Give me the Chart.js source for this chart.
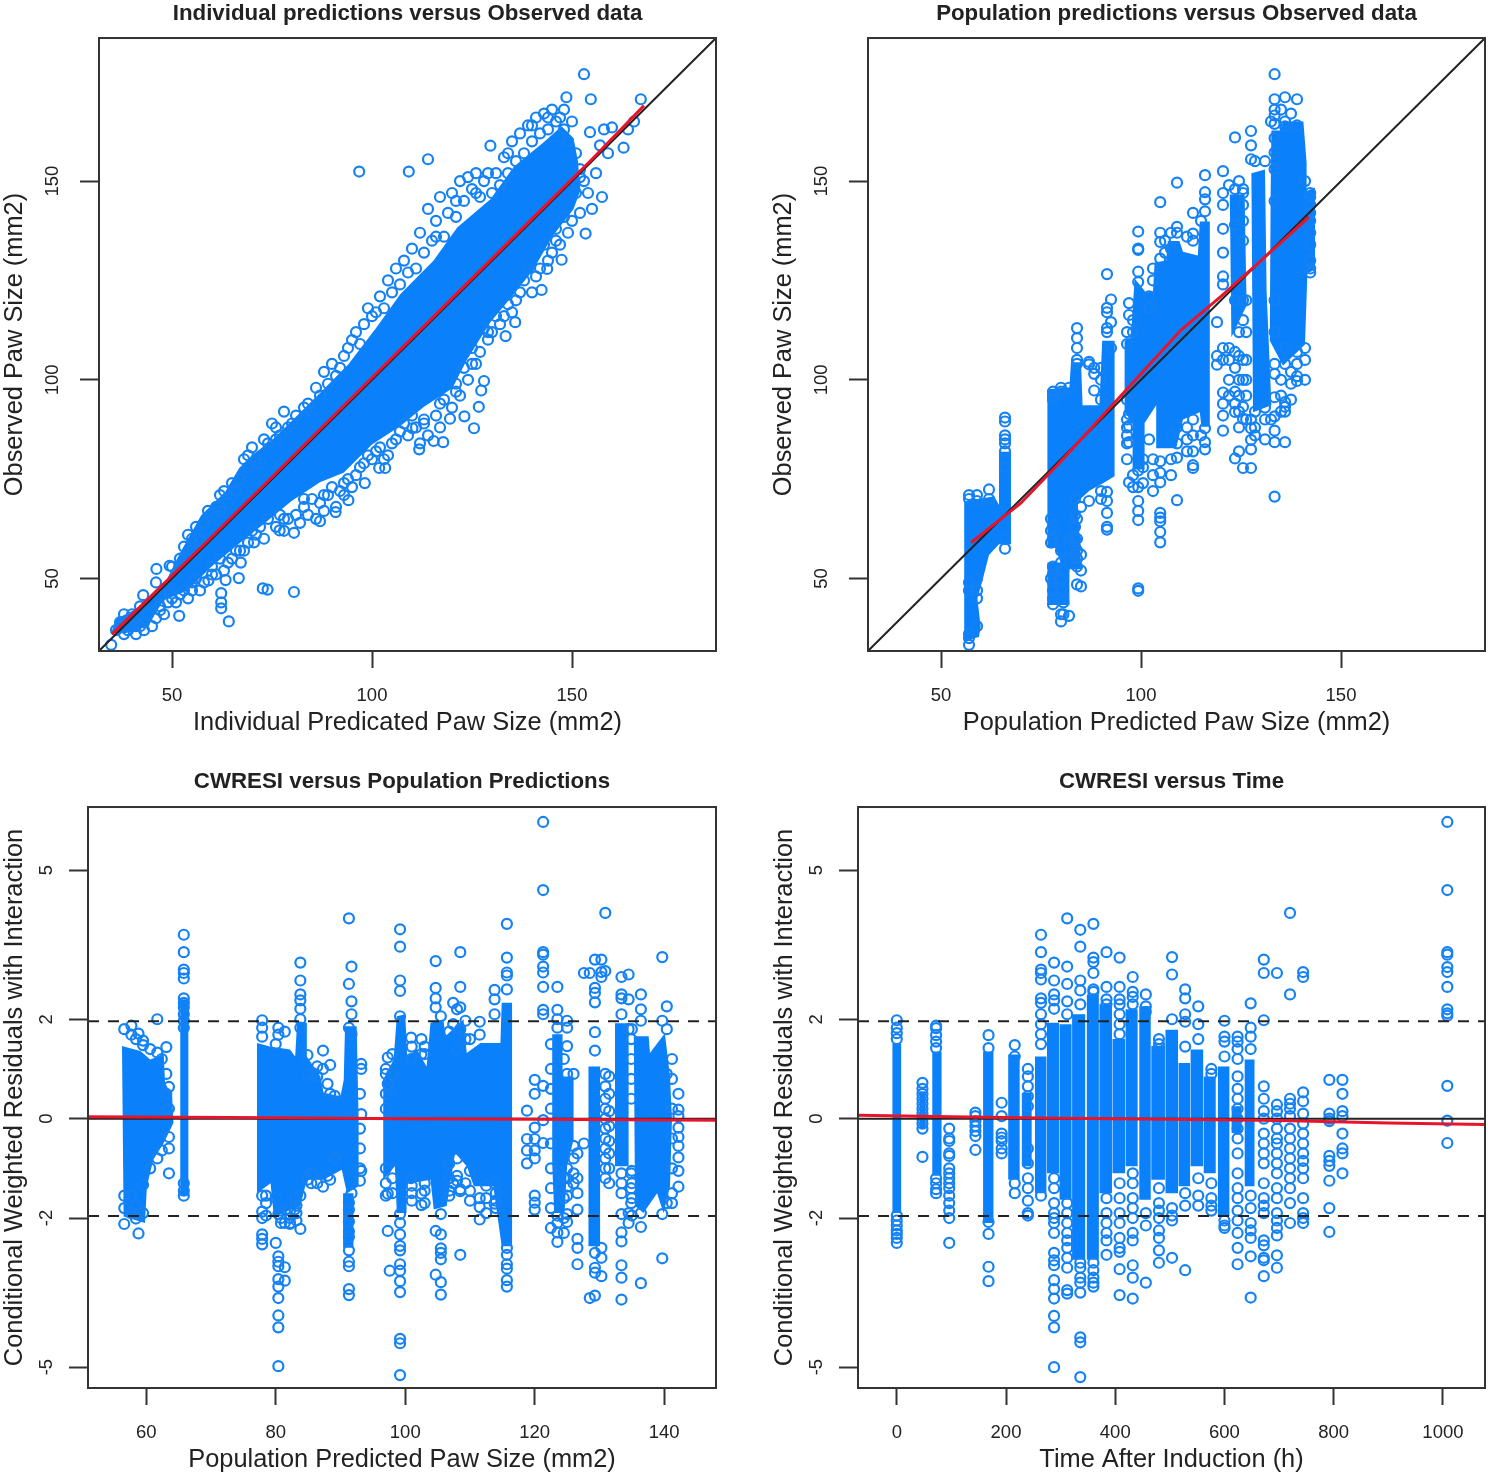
<!DOCTYPE html>
<html>
<head>
<meta charset="utf-8">
<script src="https://cdn.jsdelivr.net/npm/chart.js@4"></script>
<style>
  html, body { margin: 0; background: #fff; overflow: hidden; height: 100%; }
  canvas { position: absolute; }
</style>
</head>
<body>
<canvas id="indivChart" width="719" height="745" style="left:0;top:0"></canvas>
<canvas id="popChart" width="719" height="745" style="left:769px;top:0"></canvas>
<canvas id="cwresPopChart" width="719" height="707" style="left:0;top:768px"></canvas>
<canvas id="cwresTimeChart" width="718" height="707" style="left:770px;top:768px"></canvas>
<script>
const pawTicks = [50, 100, 150];
const cwresTicks = [-5, -2, 0, 2, 5];
const popTicks = [60, 80, 100, 120, 140];
const timeTicks = [0, 200, 400, 600, 800, 1000];

const identityLine = [31.75, 186];
const indivSmoothX = [35, 60, 80, 100, 120, 140, 155, 168];
const indivSmoothY = [36, 60.5, 80.5, 100.5, 120.5, 140.5, 155.5, 169];
const popSmoothX = [57.5, 70, 80, 90, 100, 110, 120, 130, 142];
const popSmoothY = [59, 69, 79.5, 90.5, 101.5, 112.5, 121, 130, 141];
const cwresPopSmoothX = [51, 80, 100, 120, 148];
const cwresPopSmoothY = [0.04, 0.02, 0, -0.01, -0.03];
const cwresTimeSmoothX = [-71, 100, 300, 500, 700, 900, 1077];
const cwresTimeSmoothY = [0.07, 0.04, 0.01, -0.01, -0.04, -0.09, -0.12];
const refLimits = [1.96, -1.96];

// the crowded middle of each panel is too dense to read ring by ring,
// so its outline is read off the picture and filled
const indivBandX = [36, 42, 47.3, 52, 57.3, 63.3, 66.8, 70.4, 75.1, 79.9, 87, 94.1, 101.2, 107.1, 115.4, 121.3, 129.6, 135.5, 142.7, 147.4, 150.4, 151.5, 152.1, 150.4, 145, 140.3, 135.5, 129.6, 123.7, 120.1, 113, 107.1, 100, 92.9, 87, 79.9, 72.7, 66.8, 59.7, 53.8, 47.9, 44.3, 38.4, 34.8];
const indivBandY = [39.8, 42.8, 46.9, 56.4, 65.9, 71.8, 77.8, 81.3, 84.9, 89.6, 96.7, 103.9, 113.3, 121.6, 130, 138.3, 145.4, 153.7, 159.6, 163.8, 160.8, 154.9, 147.7, 143, 135.9, 127.6, 121.6, 114.5, 105, 97.9, 93.2, 88.4, 83.7, 76.6, 74.2, 69.5, 63.5, 58.8, 52.8, 46.9, 44.5, 38.6, 36.2, 36.2];

const popShapeX = [
  [55.8, 63.3, 64.5, 64.5, 67.5, 67.5, 64.5, 62, 60.4, 59.1, 59.9, 59.5, 55.8],
  [76.6, 82.1, 82.5, 85, 85.4, 89.6, 90.3, 93.4, 93.4, 90.4, 87.1, 84.2, 85, 80.4, 78.7, 76.6],
  [76.6, 82.1, 82.1, 76.6],
  [95.9, 97.5, 98.4, 101.3, 103, 103.4, 106.3, 106.7, 109.6, 110.5, 114.2, 114.7, 117.2, 117.2, 115.1, 114.7, 110.5, 108.8, 103.8, 103.8, 100.9, 100.9, 97.9, 97.9, 95.9],
  [122.2, 125.9, 126.4, 122.6],
  [127.6, 131, 131.4, 132.6, 128],
  [132.4, 132.6, 134.7, 135.5, 140.6, 141.4, 141.4, 143.5, 143.5, 141.6, 141, 135.5, 132.2],
];
const popShapeY = [
  [69.4, 70.7, 68.5, 81.9, 81.9, 58.6, 58.6, 55.9, 49.6, 45, 37.9, 35.3, 34.4],
  [97.6, 98.1, 104.4, 104.4, 93.6, 93.6, 109.8, 109.8, 75.7, 73.9, 72.1, 69.4, 52.3, 52.3, 57.7, 57.7],
  [54, 54, 43.3, 43.3],
  [109.8, 110.7, 125.5, 121.9, 122.3, 129.5, 130, 134.9, 134.9, 132.2, 131.3, 139.8, 139.8, 88.2, 88.2, 91.8, 90, 82.8, 82.8, 93.6, 89.1, 77.4, 77.4, 89.1, 91.8],
  [146.6, 146.6, 118.7, 110.7],
  [152, 152.9, 122.3, 93.6, 91.8],
  [145.7, 162.7, 162.7, 165, 165, 154.6, 147.5, 148.4, 127.7, 126.8, 108.9, 103.5, 109.8],
];

const cwresPopShapeX = [
  [56.25, 59.1, 60.6, 62.7, 62.9, 64, 64.2, 62.7, 61.1, 60.1, 59.8, 56.5],
  [65.25, 66.5, 66.5, 65.25],
  [77.1, 79.1, 82.2, 83, 83.3, 84.8, 84.8, 86.9, 87.4, 90, 90.5, 90.7, 92.5, 92.8, 92.8, 91, 90.2, 87.4, 84.8, 83.8, 79.7, 79.2, 77.1],
  [90.4, 92, 92, 90.4],
  [96.6, 98.2, 98.7, 100, 100.3, 101.8, 103.3, 103.9, 105.9, 106.2, 109, 109.5, 111.6, 114.7, 114.9, 116.5, 116.5, 114.9, 113.6, 110.6, 109.5, 107.7, 106.4, 104.4, 103.9, 100.8, 100.2, 100.2, 98.7, 98.4, 96.6],
  [122.7, 124.3, 124.3, 126, 126, 125, 124.6, 123, 122.7],
  [128.3, 130.1, 130.1, 128.3],
  [132.4, 134.5, 134.5, 132.4],
  [135.3, 137.6, 137.8, 140.1, 140.9, 141.2, 140.9, 139.9, 138.9, 136.8, 135.5],
];
const cwresPopShapeY = [
  [1.46, 1.36, 1.19, 1.29, 0.72, 0.45, -0.09, -0.49, -0.82, -1.36, -2.1, -1.97],
  [2.4, 2.4, -1.55, -1.55],
  [1.52, 1.45, 1.39, 1.25, 1.93, 1.93, 1.25, 0.85, 0.52, 0.45, 0.78, 1.86, 1.86, -0.02, -1.36, -1.5, -1.03, -1.23, -1.23, -1.76, -1.97, -1.3, -1.5],
  [-1.5, -1.5, -2.6, -2.6],
  [0.79, 1.19, 2.06, 2.1, 1.25, 1.39, 1.05, 1.93, 2, 1.66, 2, 1.32, 1.52, 1.52, 2.33, 2.33, -2.57, -2.57, -1.36, -1.36, -0.96, -0.69, -1.76, -1.83, -1.23, -1.3, -1.3, -1.9, -1.9, -0.96, -1.23],
  [1.7, 1.7, 0.85, 0.85, -0.42, -0.96, -1.9, -1.9, -0.9],
  [1.05, 1.05, -2.57, -2.57],
  [1.92, 1.92, -0.96, -0.96],
  [1.66, 1.66, 1.32, 1.72, 0.85, -0.02, -1.36, -1.9, -1.5, -1.9, -1.76],
];

const cwresTimeBlockL = [-8, 42, 65, 158, 204, 229, 253, 275, 298, 321, 348, 371, 395, 419, 444, 466, 492, 516, 538, 562, 588, 613, 637];
const cwresTimeBlockR = [8, 52, 82, 177, 225, 247, 274, 297, 320, 345, 370, 394, 418, 441, 465, 491, 515, 537, 561, 584, 609, 631, 655];
const cwresTimeBlockLo = [-1.9, -0.2, -1.15, -2.1, -1.23, -0.96, -1.5, -1.1, -1.63, -2.84, -2.84, -1.5, -1.1, -0.96, -1.63, -1.23, -1.5, -1.36, -0.96, -1.1, -1.96, -0.29, -1.36];
const cwresTimeBlockHi = [1.5, 0.55, 1.35, 1.35, 1.29, 0.52, 1.25, 1.93, 1.9, 2.1, 2.5, 2.3, 1.6, 2.2, 2.26, 1.46, 1.79, 1.12, 1.39, 0.85, 1.05, 0.25, 1.19];

const indivX = [
  37, 38, 40, 42, 44, 45, 36, 39, 41, 43,
  47, 49, 50, 52, 53, 54, 55, 56, 57, 58,
  60, 61, 62, 63, 64, 66, 67, 68, 69, 70,
  71, 72, 74, 75, 76, 77, 78, 79, 81, 83,
  85, 86, 87, 88, 89, 90, 92, 94, 95, 96,
  98, 99, 100, 102, 103, 104, 105, 106, 107, 108,
  110, 111, 112, 113, 114, 115, 116, 117, 118, 119,
  120, 121, 122, 123, 124, 125, 126, 127, 128, 130,
  131, 132, 133, 134, 135, 136, 137, 138, 139, 140,
  141, 142, 143, 144, 145, 146, 147, 148, 149, 150, 151,
  152, 153, 154, 155, 156, 152, 150, 149, 147, 145,
  146, 144, 143, 141, 140, 139, 138, 136, 135, 134,
  132, 131, 130, 128, 127, 126, 125, 124, 123, 122,
  121, 120, 118, 117, 116, 114, 113, 112, 111, 109,
  108, 106, 105, 104, 103, 102, 100, 99, 97, 96,
  95, 94, 93, 92, 91, 90, 89, 88, 87, 86,
  85, 84, 83, 82, 81, 79, 78, 77, 76, 74,
  73, 72, 70, 69, 68, 66, 65, 64, 63, 62,
  61, 60, 58, 57, 56, 55, 54, 53, 52, 50,
  49, 48, 47, 46, 45, 43, 41, 40, 38, 37,
  96.8, 109.2, 114, 129.6, 153, 148.6, 154.7, 167.2, 162.9, 154.5,
  157.5, 153.4, 147.4, 142.4, 143.8, 133.4, 129, 135.8, 128, 127.3,
  126.7, 125.5, 123.1, 119.5, 117.8, 115.4, 111.8, 110.1, 103.3, 101.8,
  98.2, 90.9, 94.1, 87, 80.5, 76.9, 70.5, 67.2, 66.7, 63.4,
  59.1, 80.5, 72.7, 73.9, 62.3, 62.3, 62.3, 64.2, 51.8, 46.1,
  49.4, 42.8, 34.8, 158, 160, 164, 165.5, 157, 159,
  46, 51, 55, 59, 62, 65, 69, 73, 76, 80,
  84, 91, 93, 97, 101, 109, 116, 121, 126, 129,
  134, 140, 144, 148, 152, 151, 148, 146, 142, 137,
  133, 129, 125, 121, 117, 113, 110, 107, 101, 98,
  93, 88, 83, 78, 71, 67, 60, 55, 51, 47,
  42, 39
];
const indivY = [
  39, 41, 41, 43, 41, 44, 37, 37, 38, 39,
  46, 48, 53, 55, 58, 61, 57, 63, 60, 64,
  66, 68, 67, 72, 69, 72, 75, 80, 78, 83,
  80, 79, 84, 89, 88, 86, 92, 88, 91, 93,
  92, 98, 96, 102, 99, 104, 103, 108, 110, 112,
  114, 118, 116, 121, 118, 125, 122, 128, 124, 130,
  133, 128, 137, 132, 143, 135, 140, 146, 136, 142,
  147, 141, 150, 145, 151, 148, 152, 146, 150, 147,
  152, 149, 156, 152, 160, 155, 162, 157, 164, 160,
  166, 162, 167, 163, 168, 165, 166, 168, 160, 165, 157,
  153, 150, 147, 143, 152, 142, 140, 137, 134, 132,
  138, 130, 134, 126, 122, 128, 125, 120, 117, 119,
  114, 116, 112, 113, 107, 104, 108, 100, 103, 96,
  99, 93, 95, 88, 91, 86, 90, 84, 88, 86,
  89, 85, 84, 81, 80, 83, 80, 81, 78, 76,
  73, 75, 71, 72, 68, 73, 71, 67, 69, 65,
  70, 66, 68, 64, 66, 65, 62, 66, 63, 65,
  60, 63, 62, 59, 57, 57, 55, 54, 52, 55,
  51, 53, 49, 47, 50, 47, 45, 47, 46, 45,
  44, 41, 43, 40, 38, 37, 36, 38, 36, 38,
  152.4, 152.4, 155.5, 158.9, 176.9, 171.1, 170.6, 170.6, 158.4, 162.3,
  146, 136.8, 130.2, 122.6, 127.9, 111, 110.1, 114.5, 99.7, 97.3,
  93.2, 87.8, 90.8, 90.2, 84.3, 84.6, 82.5, 87.8, 77.8, 77.8,
  74, 66.7, 69.7, 64.4, 61.5, 62.1, 59.1, 54, 50.1, 49.6,
  49.5, 46.6, 47.5, 47.2, 46.3, 44, 42.5, 39.2, 40.6, 52.4,
  53.2, 45.8, 33.3, 163, 163.5, 163, 165, 159, 157,
  49, 51, 60, 67, 71, 74, 81, 85, 85, 89,
  94, 101, 106, 109, 117, 127, 136, 145, 147, 152,
  157, 164, 166, 163, 151, 147, 141, 135, 128, 122,
  116, 112, 104, 97, 94, 89, 91, 87, 82, 79,
  74, 71, 70, 65, 61, 57, 51, 49, 44, 42,
  38, 38
];

const popColX = [57, 59, 62, 66, 78, 80, 80.6, 82, 84, 87, 88.3, 91.5, 92.5, 97, 99.3, 102, 104.8, 106, 109, 113, 116, 119, 120.5, 123.5, 125.5, 127.5, 133.4, 136, 139, 142.3, 77.5, 83.5, 85, 90, 96.5, 98, 100.5, 103, 107.5, 111.5, 115, 122, 124.5, 126.3, 128.5, 131, 132.5, 135, 141, 137.5];
const popColY = [
  [71, 70, 36, 35, 33.3, 47, 49],
  [69.5, 71, 38, 45, 47, 50],
  [72.4, 70],
  [90.5, 89.5, 86, 85, 84, 82, 78, 57.5, 60],
  [97, 96, 95, 53, 51, 49, 47, 45, 43.5, 60, 63],
  [98, 97, 60, 57, 54, 50, 47, 39.2, 41],
  [41, 44, 52],
  [40.6, 98, 55, 60],
  [113, 110.5, 108, 105, 104, 60, 57, 55, 53, 48.5, 65],
  [69.5, 103.9, 104.5],
  [101.5, 97.3, 103],
  [126.6, 118.1, 117, 113, 112, 71.8, 69.5, 66.5, 63, 62.3],
  [120.2, 114.5, 108],
  [119.3, 116.3, 74.2, 84.3, 88.4, 91.4],
  [137.3, 133, 132.7, 127.2, 124.6, 73, 69.5, 67, 64.7, 47.5, 46.9, 77.2],
  [85, 121, 118],
  [144.7, 137, 134.7, 130.5, 66.5, 65.3, 64.4, 61.7, 59.1, 74.2, 76.6, 79.5],
  [132, 135],
  [149.6, 138.5, 137, 69.7, 80.4, 84, 88],
  [142, 136.8, 77.8, 78.5, 82, 135, 86, 90],
  [151.5, 147.2, 145.4, 142.4, 82.5, 84.3, 87.8],
  [114.5, 106, 103.8],
  [152.5, 147, 144, 138, 132, 126, 124, 96.8, 94, 91, 87.2, 105, 108],
  [161, 148, 139, 120, 80.2, 91.9, 94, 97, 103, 107],
  [147, 148, 144, 93.2, 90.2, 77.8, 100, 105, 115, 120, 135, 140],
  [77.8, 162.6, 159, 155.5, 82.5, 84.9, 87.8, 90],
  [176.9, 170.6, 168, 166.5, 164.4, 160.8, 157.2, 153, 145, 95.6, 90.8, 87.2, 84.3, 70.6, 101.5, 104, 112, 120],
  [171.1, 165, 163.8, 94.4, 93.2, 92, 84.3, 104, 108],
  [170.6, 164, 100.9, 99.7, 104, 107],
  [147, 146, 144, 142, 140, 127, 128, 130, 134, 137],
  [65, 62, 59, 50],
  [70, 66, 63, 60, 58, 56],
  [56, 52, 48, 68],
  [72, 70, 100, 103, 95],
  [112, 109, 95, 90, 88, 86, 84, 80],
  [115, 112, 76, 73],
  [78, 80, 74],
  [125, 128, 80, 76, 72],
  [137, 133, 86, 80, 76],
  [136, 88, 85, 82],
  [140, 86],
  [149, 105, 100, 96, 108],
  [150, 112, 106, 100, 96, 92, 88, 82],
  [120, 112, 105, 100, 96, 90],
  [155, 92, 88, 86],
  [155, 93, 90, 85],
  [165, 90],
  [168, 100, 96, 92],
  [150, 105, 108, 100],
  [167, 102, 99, 95]
];

const cwresPopColX = [56.6, 57.7, 58.4, 58.8, 59.5, 60.6, 61.7, 62.4, 63.1, 63.5, 65.8, 77.9, 80, 80.4, 81.4, 83.8, 82.9, 84.9, 85.8, 87.3, 88.4, 89.1, 91.3, 91.7, 93.2, 97.3, 97.6, 99.2, 100.9, 102.5, 104.7, 105.5, 107.4, 108.5, 109.3, 111.5, 113.8, 115.7, 118.8, 120, 121.3, 123.5, 125, 126.6, 127.6, 128.5, 129.3, 130.3, 130.9, 131.5, 133.4, 134.5, 134.9, 136.4, 139.7, 140.4, 142.2, 78.5, 80.8, 82.2, 83.2, 85.5, 86.4, 88, 93, 97, 98, 101, 103, 106.8, 108, 110, 112.5, 114, 122.5, 124.5, 126, 135, 141.2];
const cwresPopColY = [
  [1.8, -1.55, -2.12, -1.8],
  [1.87, 1.69, -1.55, -1.9],
  [1.6, -2.01, -1.74],
  [1.71, -2.31, -1.9],
  [1.48, 1.57, -1.33, -1.9],
  [1.4, -1],
  [2, 1.33, -0.8],
  [1.2, -0.64],
  [1.44, 0.9, 0.5, 0.18],
  [0.64, 0.2, -0.37, -0.6, -1.1],
  [3.7, 3.35, 3, 2.93, 2.82, 2.42, 2.33, 2.24, 2.1, 1.97, 1.83, -1.3, -1.45, -1.55],
  [1.98, 1.83, 1.65, -1.55, -1.87, -2, -2.33, -2.42, -2.53],
  [-2.5, 1.5, -1.6],
  [1.83, 1.69, -1.92, -2.77, -2.88, -2.97, -3.23, -3.38, -3.61, -3.96, -4.2, -4.98],
  [1.75, -2.1, -2.99, -3.26],
  [3.14, 2.78, 2.5, 2.38, 2.21, 2, 1.83, -2.22, -1.55],
  [-1.83, -1.6],
  [1.28, -1.23, 0.9],
  [0.91, -1.1],
  [1.37, 1, -1.37],
  [1.08, -1.23, 0.5],
  [0.46, -0.8],
  [4.03, 2.71, 1.83, -1.69, -1.83, -2.07, -2.27, -2.38, -2.65, -2.88, -2.97, -3.43, -3.55],
  [3.06, 2.36, 2.1, 1.7, -1.5],
  [1.1, 1, -1.05, 0.09],
  [1.23, -1.51, -2.26, 0.7],
  [-3.06, 0.6],
  [3.81, 3.46, 2.78, 2.57, 2.06, -1.92, -2.1, -2.33, -2.56, -2.65, -2.93, -3.06, -3.27, -3.49, -4.43, -4.52, -5.16],
  [1.63, 1.2, -1.2],
  [1.6, 1.3, -1.51, -1.74],
  [3.17, 2.63, 2.42, 2.24, -2.26, -3.14],
  [2.06, -1.92, -2.33, -2.61, -2.7, -2.83, -3.29, -3.54],
  [2.33, 1.9, -1.3],
  [3.35, 2.65, 2.24, 1.8, -2.74, -1.42, -1.46],
  [1.97, 1.6, -1.3],
  [1.95, 1.69, -2.03, -1.6, -1.78],
  [2.59, 2.4, 2.1, -1.71, -1.3],
  [3.92, 3.24, 2.94, 2.88, 2.6, -2.6, -2.74, -2.93, -3.02, -3.25, -3.38],
  [0.16, -0.41, -0.64, -0.9],
  [0.78, 0.5, -0.18, -0.41, -0.64, -0.8, -1.55, -1.69, -1.83],
  [5.97, 4.6, 3.35, 3.3, 3.06, 2.94, 2.65, 2.19, 2.1, 0.66, -0.03, -0.49],
  [2.65, 2.19, 2, 1.83, -1.95, -2.1, -2.29, -2.48],
  [1.97, 1.83, 1.46, 0.9, -1, -1.2, -1.37, -1.55, -1.92, -2.08],
  [-1.83, -2.42, -2.6, -2.93, -0.7, -1.2, -1.5],
  [2.93, -0.5],
  [2.93, -3.61],
  [3.2, 2.63, 2.53, 2.34, 1.74, 1.37, -2.7, -3.0, -3.1, -3.56],
  [3.2, 2.95, 2.85, -3.17, -2.6, -2.8],
  [4.14, 2.97, 0.9, 0.65, 0.4, 0.2, 0, -0.2, -0.4, -0.6, -0.8, -1, -1.2],
  [0.85, 0.5, 0.15, -0.15, -0.45, -0.7, -1, -1.3],
  [2.85, 2.5, 2.42, 2.1, -1.1, -1.3, -1.5, -1.92, -2.29, -2.47, -2.95, -3.2, -3.64],
  [2.9, 2.4, -2.1, -1.9, 1.8],
  [1.6, 1.2, 0.8, 0.4, -1.1, -1.4, -1.7],
  [2.5, 2.2, 1.97, -2.18, -3.31, -1.9],
  [3.25, 1.97, -2.81, -1.92],
  [2.26, 1.8, -1.7, 0.9],
  [0.5, 0.18, 0.05, -0.18, -0.37, -0.55, -0.78, -1.05, -1.37],
  [-1.55, -1.7, -1.95],
  [-2, -2.1, -1.85],
  [-1.85, -2, -2.1, -2.12],
  [-1.9, -1.75, -2.05],
  [-1.3, -1.1],
  [1.05, 0.85, -1.3],
  [0.7, -1.15],
  [0.5, -0.2, -0.6, -1, -1.25],
  [0.9, 0.5, 1, 0.2, -1.3, -1, -1.55],
  [1.3, 0.9, -1.2, -1.5],
  [1.45, -1.35, -1.5, -1.65],
  [1.45, 1.3, -1.3, -1.45, -1.7],
  [1.75, -1.2, -0.9, -1.45, -1.55],
  [1.4, 2.2, -0.8, -1.15, -1.25],
  [1.6, -1.05, -1.45, -1.65],
  [-1.35, -1.6, -1.9],
  [-1.5, -1.65, -1.8],
  [1.5, 1, 0.6, 0.2, -0.5, -1, -1.4, -1.8, -2.2],
  [1.2, -1.2, -1.6, -2, -2.3],
  [0.9, -0.55, -0.8, -1.1, -1.3],
  [1.8, -1.05, -1.3, -1.6, -1.95],
  [1.2, 0.8, 0.2, -0.4, -1, -1.5, -1.7]
];

const timeColX = [0, 47, 72, 96, 144, 168, 192, 216, 240, 264, 288, 312, 336, 360, 384, 408, 432, 456, 480, 504, 528, 552, 576, 600, 624, 648, 672, 696, 720, 744, 792, 816, 1008];
const timeColY = [
  [1.98, 1.83, 1.72, 1.6, -1.95, -2.05, -2.15, -2.25, -2.32, -2.4, -2.5],
  [0.72, 0.6, 0.5, 0.4, 0.3, 0.2, 0.1, 0, -0.1, -0.2, -0.77],
  [1.87, 1.82, 1.68, 1.55, 1.42, -1.2, -1.3, -1.42, -1.5],
  [-0.2, -0.4, -0.45, -0.7, -0.75, -1, -1.1, -1.2, -1.3, -1.4, -1.55, -1.7, -1.85, -2, -2.5],
  [0.12, 0.05, -0.05, -0.15, -0.25, -0.35, -0.63],
  [1.68, 1.42, -2.08, -2.32, -2.98, -3.27],
  [0.32, 0.05, -0.3, -0.38, -0.45, -0.6, -0.7],
  [1.48, 1.25, -1.3, -1.5],
  [1, 0.85, 0.65, 0.45, 0.25, -0.6, -0.9, -1.2, -1.4, -1.65, -1.9, -1.95],
  [3.7, 3.35, 3, 2.93, 2.8, 2.42, 2.33, 2.1, 1.9, 1.7, 1.5, -1.55],
  [3.14, 2.78, 2.5, 2.38, 2.21, -1.2, -1.4, -1.7, -1.9, -2, -2.1, -2.3, -2.7, -2.85, -2.95, -3.25, -3.43, -3.62, -3.97, -4.2, -5],
  [4.03, 3.06, 2.71, 2.36, 2.1, -1.7, -1.9, -2.1, -2.3, -2.45, -2.6, -2.8, -3, -3.45, -3.52],
  [3.8, 3.46, 2.78, 2.58, 2.3, -2.9, -3, -3.2, -3.3, -3.5, -4.4, -4.5, -5.2],
  [3.92, 3.24, 3.15, 2.93, 2.6, 2.55, -2.9, -3.05, -3.2, -3.3, -3.38],
  [3.35, 2.65, 2.4, 2.3, -1.6, -1.9, -2.1, -2.3, -2.45, -2.74],
  [3.24, 2.65, 2.4, 2.3, 2.1, 1.9, 1.7, -1.3, -1.6, -1.9, -2.1, -2.4, -2.6, -2.68, -3.03, -3.55],
  [2.85, 2.55, 2.45, 2.3, -1.1, -1.3, -1.6, -1.8, -2, -2.3, -2.45, -2.95, -3.2, -3.62],
  [2.5, 2.26, 2.15, -1.9, -2.15, -3.3],
  [1.6, 1.5, 1.4, -1.4, -1.7, -1.85, -2, -2.25, -2.4, -2.65, -2.9],
  [3.25, 2.9, 2, -1.8, -1.95, -2.05, -2.8],
  [2.6, 2.42, 2.1, 1.95, 1.45, -1.5, -1.75, -3.05],
  [2.26, 1.9, 1.6, -1.2, -1.55, -1.75],
  [1, 0.9, -1.3, -1.6, -1.75, -1.85],
  [1.97, 1.65, 1.55, 1.25, -2.05, -2.15, -2.2],
  [1.65, 1.55, 1.4, 1.2, 0.85, 0.6, 0.4, 0.2, 0, -0.2, -0.4, -0.7, -1.1, -1.4, -1.6, -1.85, -2.05, -2.3, -2.6, -2.93],
  [2.32, 1.83, 1.65, 1.4, -1.55, -1.8, -2.1, -2.25, -2.4, -2.77, -3.6],
  [3.2, 2.93, 1.98, 0.65, 0.4, 0.15, 0, -0.3, -0.5, -0.7, -0.9, -1.3, -1.6, -1.75, -1.9, -2.45, -2.55, -2.8, -2.85, -3.17],
  [2.93, 0.28, 0.15, 0, -0.2, -0.4, -0.5, -0.7, -0.9, -1.1, -1.4, -1.6, -1.9, -2.05, -2.2, -2.35, -2.75, -3],
  [4.14, 2.5, 0.4, 0.3, 0.2, 0.05, -0.2, -0.4, -0.6, -0.8, -1, -1.2, -1.4, -1.7, -2.1],
  [2.95, 2.85, 0.53, 0.35, 0.1, -0.1, -0.3, -0.5, -0.7, -0.85, -1, -1.2, -1.6, -1.9, -2, -2.1],
  [0.78, 0.1, 0, -0.05, -0.75, -0.85, -0.95, -1.25, -1.8, -2.28],
  [0.78, 0.5, 0.15, 0.05, -0.3, -0.6, -0.7, -1.1],
  [5.97, 4.6, 3.35, 3.3, 3.05, 2.95, 2.65, 2.2, 2.12, 2.07, 0.66, -0.04, -0.49]
];

const ringBlue = '#1482f5';
const coreBlue = '#0a80fb';
const frameColor = '#333';
const fontFamily = '"Liberation Sans", Arial, sans-serif';

function toPoints(xs, ys) {
  return xs.map((x, i) => ({ x, y: ys[i] }));
}

function ringDataset(points) {
  return {
    type: 'scatter',
    data: points,
    showLine: false,
    pointRadius: 5,
    pointBorderWidth: 2.2,
    pointBorderColor: ringBlue,
    pointBackgroundColor: 'rgba(0,0,0,0)',
  };
}

function columnPoints(xs, yLists) {
  return xs.flatMap((x, i) => yLists[i].map(y => ({ x, y })));
}

function shapeDataset(points) {
  return {
    type: 'line',
    data: points,
    fill: 'shape',
    tension: 0,
    pointRadius: 0,
    borderWidth: 0,
    backgroundColor: coreBlue,
  };
}

function shapeDatasets(xLists, yLists) {
  return xLists.map((xs, i) => shapeDataset(toPoints(xs, yLists[i])));
}

function blockDatasets(lefts, rights, lows, highs) {
  return lefts.map((l, i) => shapeDataset([
    { x: l, y: lows[i] },
    { x: rights[i], y: lows[i] },
    { x: rights[i], y: highs[i] },
    { x: l, y: highs[i] },
  ]));
}

function lineDataset(points, color, width, dash) {
  return {
    type: 'line',
    data: points,
    borderColor: color,
    borderWidth: width,
    borderDash: dash || [],
    pointRadius: 0,
    tension: 0,
    fill: false,
  };
}

// ticks on the y axis read bottom to top, Chart.js only does that from a plugin
const rSideLabels = {
  id: 'rSideLabels',
  afterDraw(chart, args, opts) {
    const { ctx, chartArea, scales } = chart;
    ctx.save();
    ctx.strokeStyle = frameColor;
    ctx.lineWidth = 2;
    ctx.strokeRect(chartArea.left, chartArea.top, chartArea.right - chartArea.left, chartArea.bottom - chartArea.top);
    ctx.fillStyle = '#222';
    ctx.font = '18.5px ' + fontFamily;
    ctx.textAlign = 'center';
    ctx.textBaseline = 'middle';
    opts.values.forEach(value => {
      ctx.save();
      ctx.translate(chartArea.left - opts.offset, scales.y.getPixelForValue(value));
      ctx.rotate(-Math.PI / 2);
      ctx.fillText(String(value), 0, 0);
      ctx.restore();
    });
    ctx.restore();
  },
};

function createPanel(id, panel) {
  return new Chart(document.getElementById(id).getContext('2d'), {
    type: 'scatter',
    // Chart.js paints the first dataset on top, the panels list them bottom up
    data: { datasets: panel.datasets.slice().reverse() },
    plugins: [rSideLabels],
    options: {
      responsive: false,
      animation: false,
      events: [],
      layout: { autoPadding: false, padding: { right: 3 } },
      plugins: {
        legend: { display: false },
        tooltip: { enabled: false },
        title: {
          display: true,
          text: panel.title,
          color: '#222',
          fullSize: false,
          font: { family: fontFamily, size: 22.3, weight: 'bold', lineHeight: 1.1 },
          padding: { top: 2, bottom: panel.titleGap },
        },
        rSideLabels: { values: panel.yTicks, offset: panel.yLabelOffset },
      },
      scales: {
        x: {
          type: 'linear',
          min: panel.xRange[0],
          max: panel.xRange[1],
          afterBuildTicks: axis => { axis.ticks = panel.xTicks.map(value => ({ value })); },
          afterFit: axis => {
            axis.height = panel.xAxisHeight;
            axis.paddingLeft = 0;
            axis.paddingRight = 0;
          },
          grid: { drawOnChartArea: false, tickLength: 17, tickColor: frameColor, tickWidth: 2 },
          border: { display: false },
          ticks: {
            color: '#222',
            padding: 17,
            maxRotation: 0,
            autoSkip: false,
            font: { family: fontFamily, size: 18.5 },
            callback: value => String(value),
          },
          title: {
            display: true,
            text: panel.xTitle,
            color: '#222',
            font: { family: fontFamily, size: 25.4 },
            padding: { top: 0, bottom: panel.xTitlePad },
          },
        },
        y: {
          type: 'linear',
          min: panel.yRange[0],
          max: panel.yRange[1],
          afterBuildTicks: axis => { axis.ticks = panel.yTicks.map(value => ({ value })); },
          afterFit: axis => { axis.width = panel.yAxisWidth; },
          grid: { drawOnChartArea: false, tickLength: 19, tickColor: frameColor, tickWidth: 2 },
          border: { display: false },
          ticks: { display: false },
          title: {
            display: true,
            text: panel.yTitle,
            color: '#222',
            font: { family: fontFamily, size: 25.4 },
            padding: 0,
          },
        },
      },
    },
  });
}

const identityPoints = identityLine.map(v => ({ x: v, y: v }));
const pawRange = [31.75, 186];
const cwresRange = [-5.42, 6.27];
const residualsTitle = 'Conditional Weighted Residuals with Interaction';

function residualLines(range, smoothX, smoothY) {
  const zero = [{ x: range[0], y: 0 }, { x: range[1], y: 0 }];
  return [
    lineDataset(zero, '#222', 2),
    ...refLimits.map(limit => lineDataset([{ x: range[0], y: limit }, { x: range[1], y: limit }], '#222', 2, [11, 9])),
    lineDataset(toPoints(smoothX, smoothY), '#e8142c', 3),
  ];
}

createPanel('indivChart', {
  title: 'Individual predictions versus Observed data',
  xTitle: 'Individual Predicated Paw Size (mm2)',
  yTitle: 'Observed Paw Size (mm2)',
  xRange: pawRange, yRange: pawRange, xTicks: pawTicks, yTicks: pawTicks,
  titleGap: 11.5, xAxisHeight: 94, xTitlePad: 6.8, yAxisWidth: 99, yLabelOffset: 46,
  datasets: [
    shapeDataset(toPoints(indivBandX, indivBandY)),
    ringDataset(toPoints(indivX, indivY)),
    lineDataset(identityPoints, '#222', 2),
    lineDataset(toPoints(indivSmoothX, indivSmoothY), '#e8142c', 3),
  ],
});

createPanel('popChart', {
  title: 'Population predictions versus Observed data',
  xTitle: 'Population Predicted Paw Size (mm2)',
  yTitle: 'Observed Paw Size (mm2)',
  xRange: pawRange, yRange: pawRange, xTicks: pawTicks, yTicks: pawTicks,
  titleGap: 11.5, xAxisHeight: 94, xTitlePad: 6.8, yAxisWidth: 99, yLabelOffset: 46,
  datasets: [
    ...shapeDatasets(popShapeX, popShapeY),
    ringDataset(columnPoints(popColX, popColY)),
    lineDataset(identityPoints, '#222', 2),
    lineDataset(toPoints(popSmoothX, popSmoothY), '#e8142c', 3),
  ],
});

createPanel('cwresPopChart', {
  title: 'CWRESI versus Population Predictions',
  xTitle: 'Population Predicted Paw Size (mm2)',
  yTitle: residualsTitle,
  xRange: [51, 148], yRange: cwresRange, xTicks: popTicks, yTicks: cwresTicks,
  titleGap: 12.5, xAxisHeight: 87, xTitlePad: 0, yAxisWidth: 88, yLabelOffset: 41,
  datasets: [
    ...shapeDatasets(cwresPopShapeX, cwresPopShapeY),
    ringDataset(columnPoints(cwresPopColX, cwresPopColY)),
    ...residualLines([51, 148], cwresPopSmoothX, cwresPopSmoothY),
  ],
});

createPanel('cwresTimeChart', {
  title: 'CWRESI versus Time',
  xTitle: 'Time After Induction (h)',
  yTitle: residualsTitle,
  xRange: [-71, 1077], yRange: cwresRange, xTicks: timeTicks, yTicks: cwresTicks,
  titleGap: 12.5, xAxisHeight: 87, xTitlePad: 0, yAxisWidth: 88, yLabelOffset: 41,
  datasets: [
    ...blockDatasets(cwresTimeBlockL, cwresTimeBlockR, cwresTimeBlockLo, cwresTimeBlockHi),
    ringDataset(columnPoints(timeColX, timeColY)),
    ...residualLines([-71, 1077], cwresTimeSmoothX, cwresTimeSmoothY),
  ],
});
</script>
</body>
</html>
